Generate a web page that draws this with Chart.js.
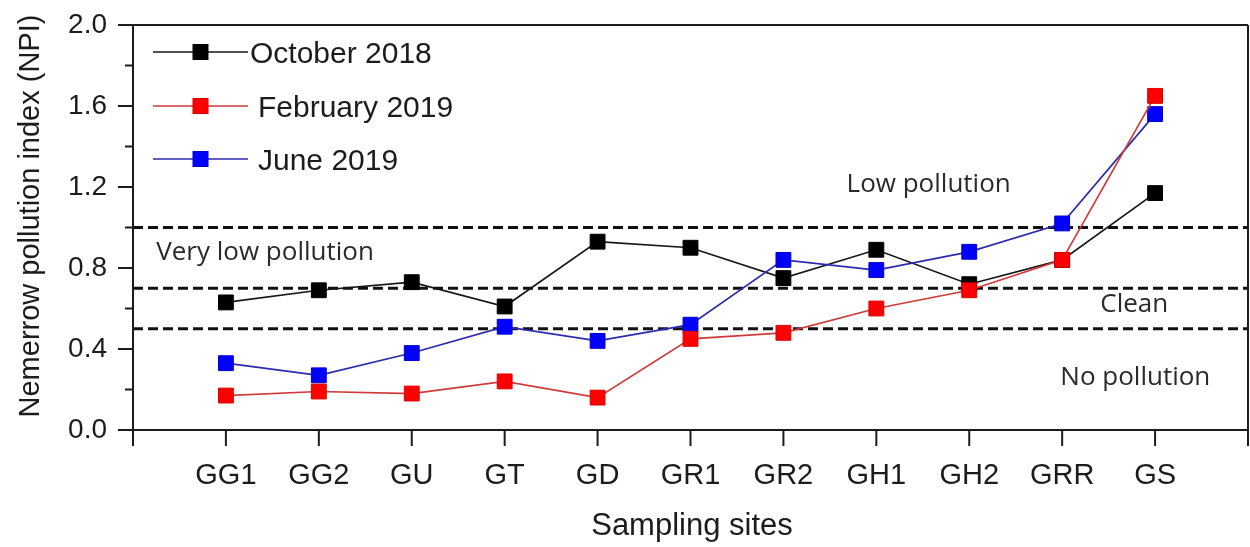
<!DOCTYPE html>
<html>
<head>
<meta charset="utf-8">
<script src="https://cdn.jsdelivr.net/npm/chart.js@4/dist/chart.umd.min.js"></script>
<style>
  html, body { margin: 0; padding: 0; background: #fff; }
  #wrap { width: 1250px; height: 547px; }
</style>
</head>
<body>
<div id="wrap"><canvas id="npi" width="1250" height="547"></canvas></div>
<script>
// Sampling sites along the river and the Nemerow pollution index per campaign
const sites   = ['GG1', 'GG2', 'GU', 'GT', 'GD', 'GR1', 'GR2', 'GH1', 'GH2', 'GRR', 'GS'];
const oct2018 = [0.63, 0.69, 0.73, 0.61, 0.93, 0.90, 0.75, 0.89, 0.72, 0.84, 1.17];
const feb2019 = [0.17, 0.19, 0.18, 0.24, 0.16, 0.45, 0.48, 0.60, 0.69, 0.84, 1.65];
const jun2019 = [0.33, 0.27, 0.38, 0.51, 0.44, 0.52, 0.84, 0.79, 0.88, 1.02, 1.56];
const campaigns = ['October 2018', 'February 2019', 'June 2019'];

// Y-axis labelled ticks and class boundaries of the index
const yLabelTicks = [0.0, 0.4, 0.8, 1.2, 1.6, 2.0];
const classLimits = [1.0, 0.7, 0.5];
const classNames  = ['Low pollution', 'Very low pollution', 'Clean', 'No pollution'];

const ARIAL = '"Liberation Sans", Arial, sans-serif';
const INK = '#1c1c1c';

const seriesData = vals => vals.map((v, i) => ({ x: i, y: v }));

const limitSets = classLimits.map(v => ({
  label: 'limit ' + v,
  data: [{ x: -1, y: v }, { x: sites.length, y: v }],
  borderColor: '#111',
  borderWidth: 3,
  borderDash: [10, 5],
  pointRadius: 0,
  order: 10
}));

const series = [
  { label: campaigns[0], data: seriesData(oct2018), borderColor: '#161616', backgroundColor: '#000000',
    pointBorderColor: '#000000', order: 3 },
  { label: campaigns[1], data: seriesData(feb2019), borderColor: '#cf3a3a', backgroundColor: '#ff0000',
    pointBorderColor: '#dd0000', order: 1 },
  { label: campaigns[2], data: seriesData(jun2019), borderColor: '#2b2bb0', backgroundColor: '#0000ff',
    pointBorderColor: '#0000d0', order: 2 }
].map(d => Object.assign(d, {
  borderWidth: 1.7,
  pointStyle: 'rect',
  pointRadius: 10.5,
  pointHoverRadius: 10.5,
  pointBorderWidth: 1,
  fill: false,
  tension: 0
}));

// Class names placed in data coordinates (site index, index value)
const classLabelSpots = [
  { x: 6.68, y: 1.21 },
  { x: -0.75, y: 0.874 },
  { x: 9.41, y: 0.617 },
  { x: 8.98, y: 0.257 }
];

const framePlugin = {
  id: 'frame',
  afterDraw(chart) {
    const { ctx, chartArea: a, scales: { x, y } } = chart;
    ctx.save();
    ctx.strokeStyle = INK;
    ctx.lineWidth = 2;
    ctx.lineCap = 'butt';

    // plot box
    ctx.beginPath();
    ctx.moveTo(a.left, a.top);    ctx.lineTo(a.right, a.top);
    ctx.moveTo(a.left, a.bottom); ctx.lineTo(a.right, a.bottom);
    ctx.moveTo(a.left, a.top);    ctx.lineTo(a.left, a.bottom);
    ctx.moveTo(a.right, a.top);   ctx.lineTo(a.right, a.bottom);
    ctx.stroke();

    // y ticks: major every 0.4, minor between
    ctx.beginPath();
    for (let i = 0; i <= 10; i++) {
      const py = y.getPixelForValue(i * 0.2);
      const len = i % 2 === 0 ? 15 : 8;
      ctx.moveTo(a.left - len, py); ctx.lineTo(a.left, py);
    }
    // x ticks at every site and at both ends
    for (let i = -1; i <= sites.length; i++) {
      const px = x.getPixelForValue(i);
      ctx.moveTo(px, a.bottom); ctx.lineTo(px, a.bottom + 16);
    }
    ctx.stroke();

    // axis titles
    ctx.fillStyle = INK;
    ctx.textAlign = 'center';
    ctx.textBaseline = 'middle';
    ctx.font = '31px ' + ARIAL;
    ctx.fillText('Sampling sites', 692, 526);
    ctx.save();
    ctx.translate(31, 216);
    ctx.rotate(-Math.PI / 2);
    ctx.font = '29px ' + ARIAL;
    ctx.fillText('Nemerrow pollution index (NPI)', 0, 0);
    ctx.restore();

    // class names
    ctx.fillStyle = '#2a2a2a';
    ctx.textAlign = 'left';
    ctx.font = '26px "Open Sans", sans-serif';
    classNames.forEach((t, i) => {
      const s = classLabelSpots[i];
      ctx.fillText(t, x.getPixelForValue(s.x), y.getPixelForValue(s.y));
    });

    // legend
    const rowY = [52, 106, 159];
    const textX = [250, 258, 258];
    ctx.font = '30px ' + ARIAL;
    series.forEach((d, i) => {
      const ly = rowY[i];
      ctx.strokeStyle = d.borderColor;
      ctx.lineWidth = 1.7;
      ctx.beginPath();
      ctx.moveTo(153, ly); ctx.lineTo(248, ly);
      ctx.stroke();
      ctx.fillStyle = d.backgroundColor;
      ctx.fillRect(193, ly - 7.5, 15, 15);
      ctx.strokeStyle = d.pointBorderColor;
      ctx.lineWidth = 1;
      ctx.strokeRect(193, ly - 7.5, 15, 15);
      ctx.fillStyle = INK;
      ctx.fillText(d.label, textX[i], ly + 3);
    });
    ctx.restore();
  }
};

new Chart(document.getElementById('npi'), {
  type: 'line',
  data: { datasets: [...limitSets, ...series] },
  options: {
    responsive: false,
    animation: false,
    events: [],
    layout: { autoPadding: false, padding: { top: 25, right: 2, left: 0, bottom: 0 } },
    plugins: { legend: { display: false }, tooltip: { enabled: false } },
    scales: {
      x: {
        type: 'linear',
        min: -1,
        max: sites.length,
        afterFit: s => { s.height = 117; s.paddingLeft = 0; s.paddingRight = 0; },
        grid: { display: false, drawTicks: false },
        border: { display: false },
        ticks: {
          stepSize: 1,
          autoSkip: false,
          maxRotation: 0,
          padding: 29,
          color: INK,
          font: { family: ARIAL, size: 29 },
          callback: v => (Number.isInteger(v) && sites[v]) ? sites[v] : ''
        }
      },
      y: {
        min: 0,
        max: 2,
        afterFit: s => { s.width = 133; s.paddingTop = 0; s.paddingBottom = 0; },
        grid: { display: false, drawTicks: false },
        border: { display: false },
        afterBuildTicks: s => { s.ticks = yLabelTicks.map(v => ({ value: v })); },
        ticks: {
          autoSkip: false,
          padding: 26,
          color: INK,
          font: { family: ARIAL, size: 28 },
          callback: v => v.toFixed(1)
        }
      }
    }
  },
  plugins: [framePlugin]
});
</script>
</body>
</html>
